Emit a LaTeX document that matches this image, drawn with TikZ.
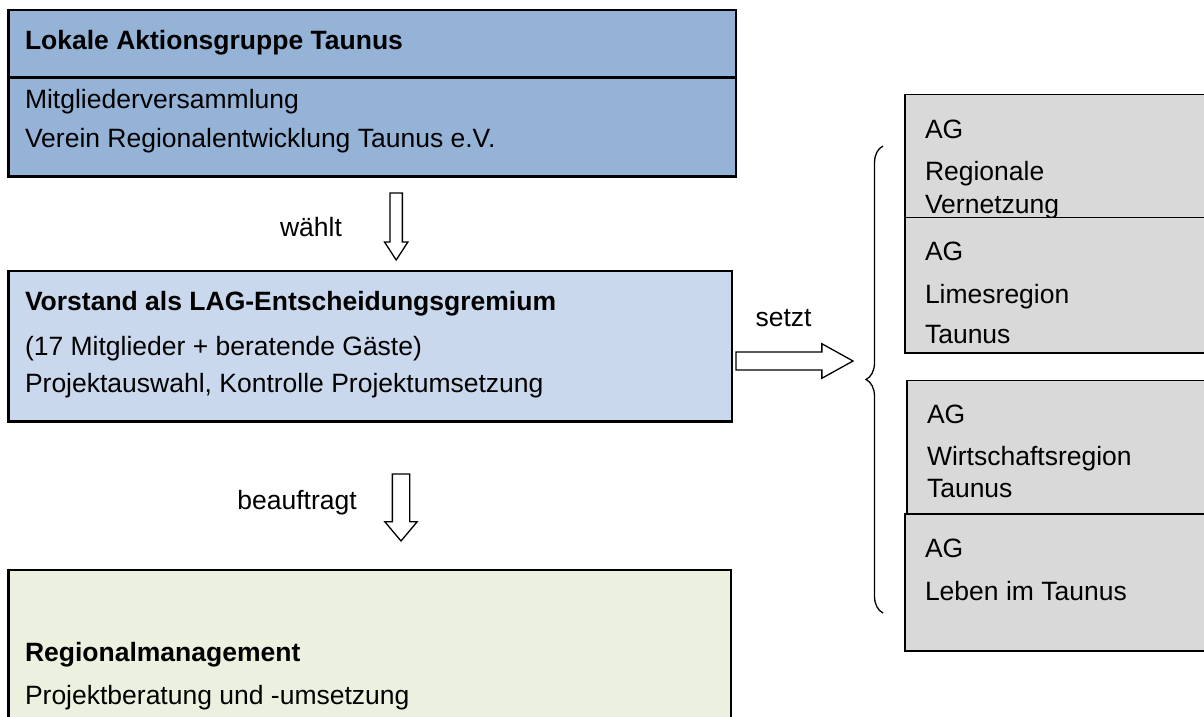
\documentclass[tikz,border=0pt]{standalone}
\usepackage{fontspec}
\setmainfont{Liberation Sans}
\usetikzlibrary{shapes.arrows,decorations.pathreplacing}

\definecolor{lagblue}{HTML}{95B3D7}
\definecolor{vorstandblue}{HTML}{C9D8EC}
\definecolor{rmgreen}{HTML}{EBF1DE}
\definecolor{aggray}{HTML}{D9D9D9}

\tikzset{
    mainbox/.style={draw, line width=2.6pt, rectangle, anchor=north west, inner sep=0pt, outer sep=0pt},
    agbox/.style={draw, line width=1.4pt, rectangle, anchor=north west, inner sep=0pt, outer sep=0pt, fill=aggray, minimum width=320},
    txt/.style={anchor=base west, inner sep=0pt, outer sep=0pt, font=\fontsize{26.5}{30}\selectfont},
    hollowarrow/.style={draw, line width=1.3pt, fill=white, single arrow, inner xsep=0pt, outer sep=0pt, anchor=tail}
}

\begin{document}
\begin{tikzpicture}[x=1pt,y=-1pt]
                \path[use as bounding box, clip] (0,0) rectangle (1204,717);

                \node[mainbox, fill=lagblue, minimum width=727.3, minimum height=166.5] (L) at (8.7,10) {};
                \draw[line width=2.6pt] ([yshift=-67.7pt]L.north west) -- ([yshift=-67.7pt]L.north east);
                \node[txt] (L1) at (25,50) {\textbf{Lokale Aktionsgruppe Taunus}};
                \node[txt] (L2) at (25,108) {Mitgliederversammlung};
                \node[txt] (L3) at (25,147) {Verein Regionalentwicklung Taunus e.V.};

                \node[hollowarrow, rotate=-90, minimum height=67, inner ysep=5.5, single arrow head extend=5.5, single arrow tip angle=66] (W) at (396.2,193) {};
                \node[txt, anchor=base] (Wl) at (311,236) {wählt};

                \node[mainbox, fill=vorstandblue, minimum width=723.7, minimum height=150.7] (V) at (8.3,271) {};
                \node[txt] (V1) at (25,310.7) {\textbf{Vorstand als LAG-Entscheidungsgremium}};
                \node[txt] (V2) at (25,355) {(17 Mitglieder + beratende Gäste)};
                \node[txt] (V3) at (25,392.3) {Projektauswahl, Kontrolle Projektumsetzung};

                \node[hollowarrow, minimum height=117, inner ysep=8.3, single arrow head extend=8.3, single arrow tip angle=58] (S) at (736,361) {};
                \node[txt, anchor=base] (Sl) at (783.5,326) {setzt};

                \node[hollowarrow, rotate=-90, minimum height=67, inner ysep=8, single arrow head extend=7.5, single arrow tip angle=80] (B) at (401,474) {};
                \node[txt, anchor=base] (Bl) at (297,509) {beauftragt};

                \node[mainbox, fill=rmgreen, minimum width=722.5, minimum height=180] (R) at (8.5,570) {};
                \node[txt] (R1) at (25,661) {\textbf{Regionalmanagement}};
                \node[txt] (R2) at (25,704) {Projektberatung und -umsetzung};

                \coordinate (BT) at (883,146);
                \coordinate (BB) at (883,613);
                \draw[line width=1.3pt, decorate, decoration={brace, amplitude=17pt}] (BB) -- (BT);

                \node[agbox, minimum height=123] (A1) at (905,94.7) {};
                \node[txt] (A11) at (925,138) {AG};
                \node[txt] (A12) at (925,180) {Regionale};
                \node[txt] (A13) at (925,213.5) {Vernetzung};

                \node[agbox, minimum height=135.3] (A2) at (905,217.7) {};
                \node[txt] (A21) at (925,260) {AG};
                \node[txt] (A22) at (925,303) {Limesregion};
                \node[txt] (A23) at (925,343) {Taunus};

                \node[agbox, minimum height=133.5] (A3) at (907,380.5) {};
                \node[txt] (A31) at (927,423) {AG};
                \node[txt] (A32) at (927,465) {Wirtschaftsregion};
                \node[txt] (A33) at (927,497) {Taunus};

                \node[agbox, minimum height=137] (A4) at (905,514) {};
                \node[txt] (A41) at (925,557) {AG};
                \node[txt] (A42) at (925,600) {Leben im Taunus};
            \end{tikzpicture}
\end{document}
